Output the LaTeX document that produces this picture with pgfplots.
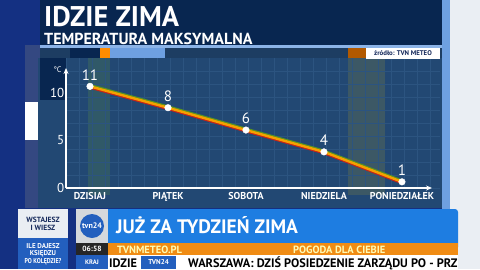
\documentclass[border=0pt]{standalone}
\usepackage{pgfplots}
\pgfplotsset{compat=1.18}
\usepackage{graphicx}
\usepackage{fontspec}
\setmainfont{PT Sans}
\usetikzlibrary{arrows.meta}
\definecolor{leftblue}{RGB}{20,48,130}
\definecolor{titlebg}{RGB}{8,38,80}
\definecolor{panel}{RGB}{34,72,115}
\definecolor{gridc}{RGB}{44,84,128}
\definecolor{pale}{RGB}{234,238,243}
\definecolor{stripblue}{RGB}{110,160,225}
\definecolor{banner}{RGB}{30,125,225}
\definecolor{orangebar}{RGB}{240,140,20}
\definecolor{lineor}{RGB}{245,160,0}
\definecolor{linered}{RGB}{200,35,25}
\definecolor{linegreen}{RGB}{90,150,30}
\definecolor{boxblue}{RGB}{35,95,190}
\definecolor{navytext}{RGB}{20,40,90}
\pgfplotstableread{
x y
0 10.7
1 8.45
2 6.1
3 3.8
4 0.65
}\temps
\begin{document}
\begin{tikzpicture}
\begin{scope}[x=1pt,y=-1pt]
% backgrounds
\fill[leftblue] (0,0) rectangle (480,269);
\fill[leftblue!70!gray] (25,45) rectangle (40,208);
\fill[pale] (450,0) rectangle (480,269);
\fill[stripblue] (442,0) rectangle (450,210);
\fill[titlebg] (40,0) rectangle (442,45);
\fill[stripblue!80!white] (40,45) rectangle (442,47.5);
\fill[panel!85!black] (40,47.5) rectangle (442,58);
\fill[titlebg] (70,48) rectangle (100,58);
\fill[orange!90!yellow] (100,48) rectangle (110,58);
\fill[stripblue] (110,48) rectangle (165,58);
\fill[orange!70!black] (348,48) rectangle (366,58);
\fill[panel] (38,58) rectangle (442,208);
\fill[white] (25,102) rectangle (38,140);
\fill[titlebg] (40,58) rectangle (66,100);
% highlight bands
\fill[yellow!60!green, opacity=0.12] (88,58) rectangle (110,195);
\fill[yellow!70!orange, opacity=0.12] (348,58) rectangle (385,195);
% grid
\foreach \gx in {66,79,...,440} \draw[gridc, line width=0.5pt] (\gx,58) -- (\gx,188);
\foreach \gy in {188,175,...,60} \draw[gridc, line width=0.5pt] (66,\gy) -- (440,\gy);
% source box
\fill[white] (366,48) rectangle (440,58.5);
\node[font=\bfseries\fontsize{6.8}{7}\selectfont, text=navytext, inner sep=0pt] at (403,53.3) {źródło: TVN METEO};
% titles
\node[anchor=base west, font=\bfseries\fontsize{28.5}{28.5}\selectfont, text=white, inner sep=0pt] at (44,26) {IDZIE ZIMA};
\node[anchor=base west, font=\bfseries\fontsize{16}{16}\selectfont, text=white, inner sep=0pt] at (44,44.5) {TEMPERATURA MAKSYMALNA};
\node[font=\fontsize{8}{8}\selectfont, text=white, inner sep=0pt] at (57.5,70) {°C};
% lower third
\fill[pale] (18,209) rectangle (68,238);
\node[font=\bfseries\fontsize{7.5}{8}\selectfont, text=navytext, align=center, inner sep=0pt] at (43,224) {WSTAJESZ\\I WIESZ};
\fill[boxblue] (18,238) rectangle (68,269);
\node[font=\bfseries\fontsize{7}{7.8}\selectfont, text=white, align=center, inner sep=0pt] at (43,254) {ILE DAJESZ\\KSIĘDZU\\\scalebox{0.85}[1]{PO KOLĘDZIE?}};
\fill[pale!80!gray] (76,209) rectangle (108,243);
\fill[boxblue] (92,226) circle (12);
\node[font=\bfseries\fontsize{8}{8}\selectfont, text=white, inner sep=0pt] at (92,226) {tvn24};
\fill[black!85] (76,243) rectangle (108,255);
\node[font=\bfseries\fontsize{7.5}{8}\selectfont, text=white, inner sep=0pt] at (92,249) {06:58};
\fill[boxblue] (76,255) rectangle (108,269);
\node[font=\bfseries\fontsize{6.5}{7}\selectfont, text=white, inner sep=0pt] at (92,262) {KRAJ};
\fill[banner, rounded corners=3pt] (108,209) rectangle (458,250);
\fill[banner] (108,209) rectangle (120,243);
\fill[orangebar] (108,243) rectangle (458,255);
\node[anchor=base west, font=\bfseries\fontsize{19.5}{19.5}\selectfont, text=white, inner sep=0pt] at (116,233) {JUŻ ZA TYDZIEŃ ZIMA};
\node[anchor=base west, font=\bfseries\fontsize{10.5}{10.5}\selectfont, text=yellow!30!white, inner sep=0pt] at (117,253) {TVNMETEO.PL};
\node[anchor=base west, font=\bfseries\fontsize{10.5}{10.5}\selectfont, text=yellow!30!white, inner sep=0pt] at (293,253) {POGODA DLA CIEBIE};
\fill[white] (108,255) rectangle (458,269);
\node[anchor=base west, font=\bfseries\fontsize{12.3}{12.3}\selectfont, text=black, inner sep=0pt] at (109,267) {IDZIE};
\fill[boxblue] (141,256) rectangle (176,268.5);
\node[font=\bfseries\fontsize{7}{7}\selectfont, text=white, inner sep=0pt] at (158.5,262.5) {TVN24};
\node[anchor=base west, font=\bfseries\fontsize{12.3}{12.3}\selectfont, text=black, inner sep=0pt] at (188,267) {WARSZAWA: DZIŚ POSIEDZENIE ZARZĄDU PO - PRZ};
\end{scope}
\begin{axis}[
  at={(66pt,-188pt)}, anchor=south west,
  scale only axis, width=366pt, height=120pt,
  xmin=-0.3077, xmax=4.385, ymin=0, ymax=12.63,
  axis x line=bottom, axis y line=left,
  axis line style={white, line width=1.1pt},
  every outer x axis line/.append style={-{Stealth[length=6pt,width=5pt]}},
  every outer y axis line/.append style={-{Stealth[length=6pt,width=5pt]}},
  major tick length=0pt,
  xtick={0,1,2,3,4},
  xticklabels={DZISIAJ,PIĄTEK,SOBOTA,NIEDZIELA,PONIEDZIAŁEK},
  ytick={0,5,10},
  tick label style={text=white},
  xticklabel style={font=\bfseries\fontsize{10}{10}\selectfont, yshift=-0.5pt},
  yticklabel style={font=\fontsize{13}{13}\selectfont, inner sep=1.5pt},
  /pgf/number format/assume math mode=true,
  clip=false,
]
\addplot[linegreen, line width=2pt, yshift=1.4pt] table[x=x,y=y] {\temps};
\addplot[linered, line width=2pt, yshift=-1.4pt] table[x=x,y=y] {\temps};
\addplot[lineor, line width=2.4pt] table[x=x,y=y] {\temps};
\addplot[only marks, mark=*, mark size=3.3pt, mark options={fill=white, draw=white},
  nodes near coords={\pgfmathprintnumber[fixed,precision=0]{\pgfplotspointmeta}},
  every node near coord/.append style={text=white, font=\fontsize{15}{15}\selectfont, yshift=2.5pt}
] table[x=x,y=y] {\temps};
\end{axis}
\end{tikzpicture}
\end{document}
